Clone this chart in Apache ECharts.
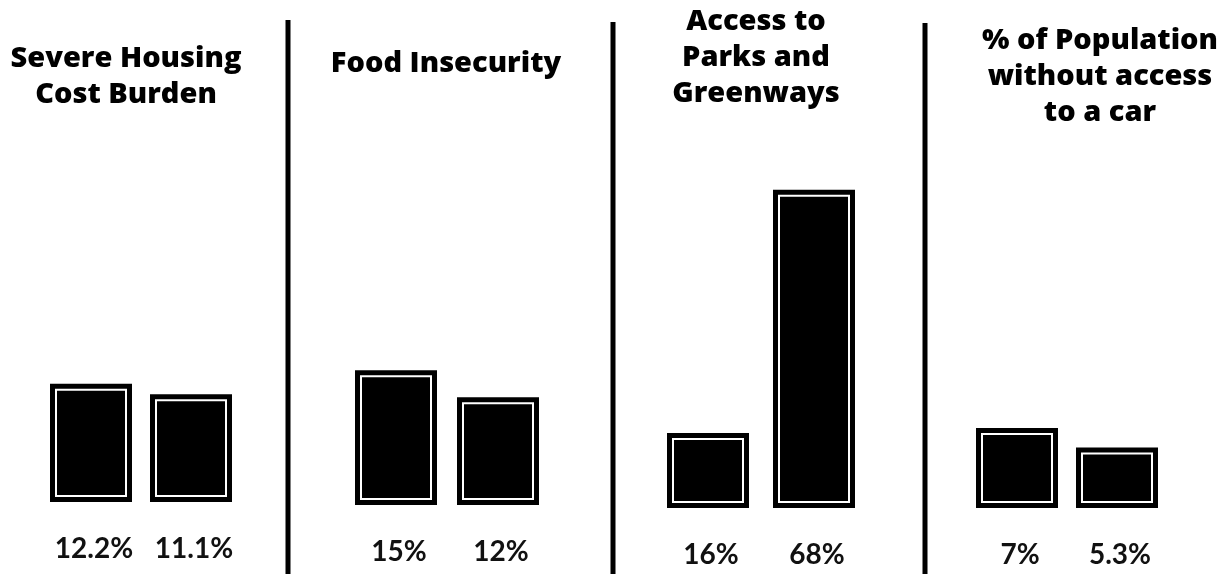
<!DOCTYPE html>
<html>
<head>
<meta charset="utf-8">
<script src="https://cdn.jsdelivr.net/npm/echarts@6/dist/echarts.min.js"></script>
<style>
  html, body { margin: 0; padding: 0; background: #fff; }
  #chart { width: 1227px; height: 574px; }
</style>
</head>
<body>
<div id="chart"></div>
<script>
// ---- data ----
const panelTitles = [
  'Severe Housing\nCost Burden',
  'Food Insecurity',
  'Access to\nParks and\nGreenways',
  '% of Population\nwithout access\nto a car'
];
const barCategories = ['First bar', 'Second bar'];
const housingCostBurden = [12.2, 11.1];
const foodInsecurity = [15, 12];
const parksAccess = [16, 68];
const noCarAccess = [7, 5.3];
const panelValues = [housingCostBurden, foodInsecurity, parksAccess, noCarAccess];

// ---- layout (pixels) ----
const gridLeft = [41, 345, 655, 967];
const gridWidth = [200, 204, 212, 200];
const gridBottomY = [502, 505, 508, 508];
const gridTopY = 150;
const axisMax = [36.3, 39.5, 76.5, 31.3];
const titleCenterX = [126, 446, 756, 1100];
const titleTop = [41, 46, 4, 23];
const dividerX = [288, 613, 925];
const dividerTop = [20, 22, 23];
const BAR_W = 82, INSET = 6, LABEL_OFFSET = 47;

const chart = echarts.init(document.getElementById('chart'), null, { renderer: 'canvas' });

function renderFramedBar(params, api) {
  const xi = api.value(0), v = api.value(1);
  const top = api.coord([xi, v]);
  const base = api.coord([xi, 0]);
  const x0 = top[0] - BAR_W / 2;
  const h = base[1] - top[1];
  return {
    type: 'group',
    children: [
      { type: 'rect', shape: { x: x0, y: top[1], width: BAR_W, height: h }, style: { fill: '#000' } },
      { type: 'rect', shape: { x: x0 + INSET, y: top[1] + INSET, width: BAR_W - 2 * INSET, height: h - 2 * INSET },
        style: { fill: '#000', stroke: '#fff', lineWidth: 2 } },
      { type: 'text', style: {
          x: base[0] + 3, y: base[1] + LABEL_OFFSET, text: api.value(1) + '%',
          align: 'center', verticalAlign: 'middle',
          fill: '#111', font: 'bold 28px Lato'
        } }
    ]
  };
}

const grids = [], xAxes = [], yAxes = [], series = [], titles = [];
panelValues.forEach((vals, i) => {
  grids.push({ left: gridLeft[i], width: gridWidth[i], top: gridTopY, height: gridBottomY[i] - gridTopY });
  xAxes.push({ type: 'category', gridIndex: i, data: barCategories, show: false });
  yAxes.push({ type: 'value', gridIndex: i, min: 0, max: axisMax[i], show: false, splitLine: { show: false } });
  series.push({
    type: 'custom', xAxisIndex: i, yAxisIndex: i, silent: true, clip: false,
    data: vals.map((v, j) => [j, v]),
    encode: { x: 0, y: 1 },
    renderItem: renderFramedBar
  });
  titles.push({
    text: panelTitles[i], left: titleCenterX[i], top: titleTop[i], textAlign: 'center', padding: 0,
    textStyle: { fontFamily: 'Open Sans', fontWeight: 800, fontSize: 29, lineHeight: 36, color: '#000' }
  });
});

const graphics = dividerX.map((x, k) => ({
  type: 'line', silent: true,
  shape: { x1: x, y1: dividerTop[k], x2: x, y2: 574 },
  style: { stroke: '#000', lineWidth: 5 }
}));

chart.setOption({
  animation: false,
  backgroundColor: '#fff',
  title: titles,
  grid: grids,
  xAxis: xAxes,
  yAxis: yAxes,
  series: series,
  graphic: graphics
});
</script>
</body>
</html>
